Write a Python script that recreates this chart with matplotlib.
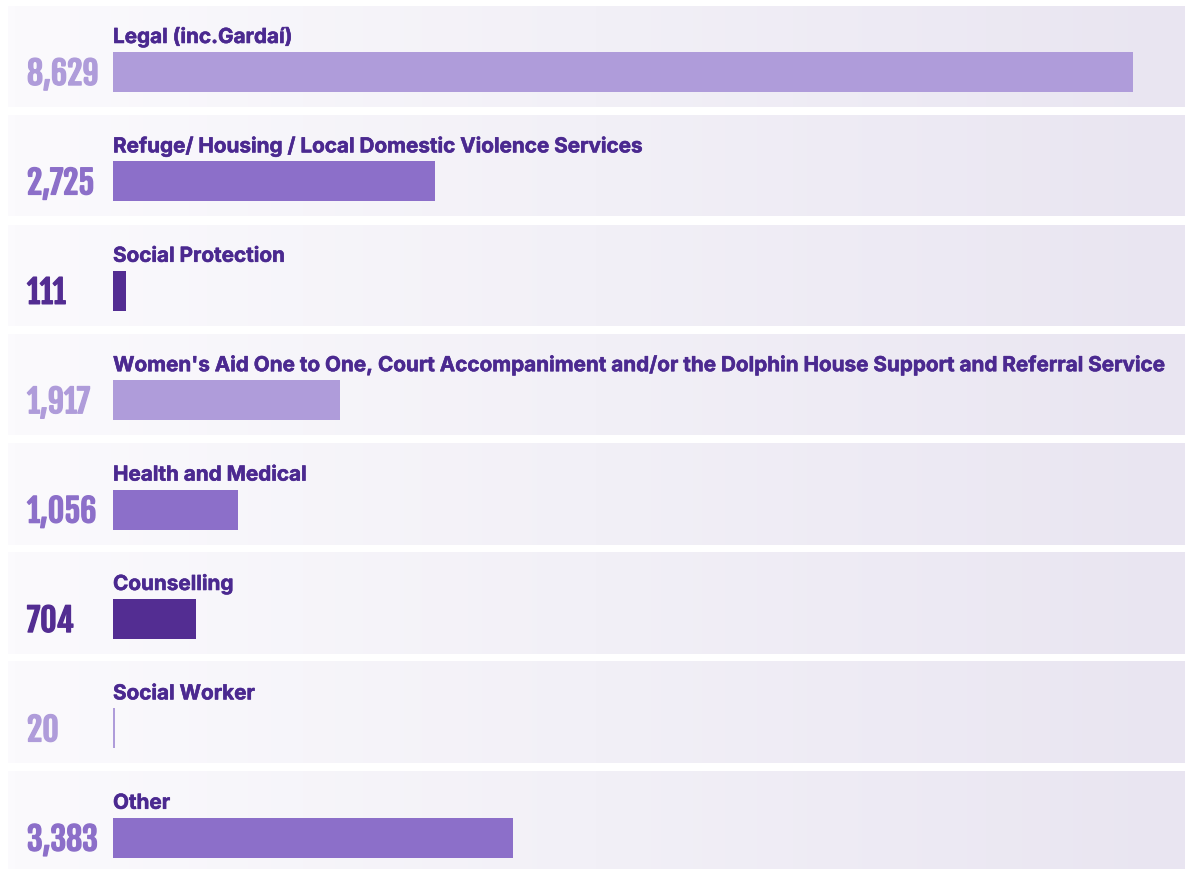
import matplotlib
matplotlib.use("Agg")
import matplotlib.pyplot as plt
import matplotlib.patheffects as pe
from matplotlib.colors import LinearSegmentedColormap
import numpy as np

# datos del grafico
categorias = [
    "Legal (inc.Gardaí)",
    "Refuge/ Housing / Local Domestic Violence Services",
    "Social Protection",
    "Women's Aid One to One, Court Accompaniment and/or the Dolphin House Support and Referral Service",
    "Health and Medical",
    "Counselling",
    "Social Worker",
    "Other",
]
valores = [8629, 2725, 111, 1917, 1056, 704, 20, 3383]

claro, medio, oscuro = "#AF9CDA", "#8C6FC9", "#532D92"
colores = [claro, medio, oscuro, claro, medio, oscuro, claro, medio]
color_texto = "#4B2990"

fuente_num = ["Fjalla One", "DejaVu Sans"]
fuente_lab = ["Inter", "DejaVu Sans"]

W, H = 1185, 870
fig = plt.figure(figsize=(W / 100, H / 100), dpi=100)
ax = fig.add_axes([0, 0, 1, 1])

# escala: 0 en x=113px, 8629 en x=1133px
px_por_unidad = (1133 - 113) / 8629
x0 = -113 / px_por_unidad
x1 = (W - 113) / px_por_unidad
paso = 109.4              # px por fila
centro0 = 57.5            # centro de la primera banda en px
ax.set_xlim(x0, x1)
ax.set_ylim((H - centro0) / paso, -centro0 / paso)
ax.axis("off")

# fondo con degradado en cada banda
cmap = LinearSegmentedColormap.from_list("fondo", ["#FBFAFD", "#F2F0F7", "#E9E5F1"])
grad = np.linspace(0, 1, 256).reshape(1, -1)
alto_banda = 101 / paso
for i in range(len(categorias)):
    ax.imshow(grad, cmap=cmap, aspect="auto", interpolation="bilinear",
              extent=[x0 + 8 / px_por_unidad, x1,
                      i + alto_banda / 2, i - alto_banda / 2], zorder=0)

# barras
desp = 15.5 / paso
alto_barra = 40 / paso
y = np.arange(len(categorias)) + desp
ax.barh(y, valores, height=alto_barra, color=colores, zorder=2)

for i, (cat, val, col) in enumerate(zip(categorias, valores, colores)):
    ax.text(0, y[i] - alto_barra / 2 - 9 / paso, cat, ha="left", va="baseline",
            fontsize=14.9, fontweight="bold", color=color_texto, family=fuente_lab, zorder=3,
            path_effects=[pe.withStroke(linewidth=0.4, foreground=color_texto)])
    ax.text(x0 + 27 / px_por_unidad, y[i] + alto_barra / 2 - 7 / paso, f"{val:,}",
            ha="left", va="baseline", fontsize=23, color=col,
            family=fuente_num, zorder=3,
            path_effects=[pe.withStroke(linewidth=1.0, foreground=col)])

fig.savefig("out.png", dpi=100, facecolor="white")
